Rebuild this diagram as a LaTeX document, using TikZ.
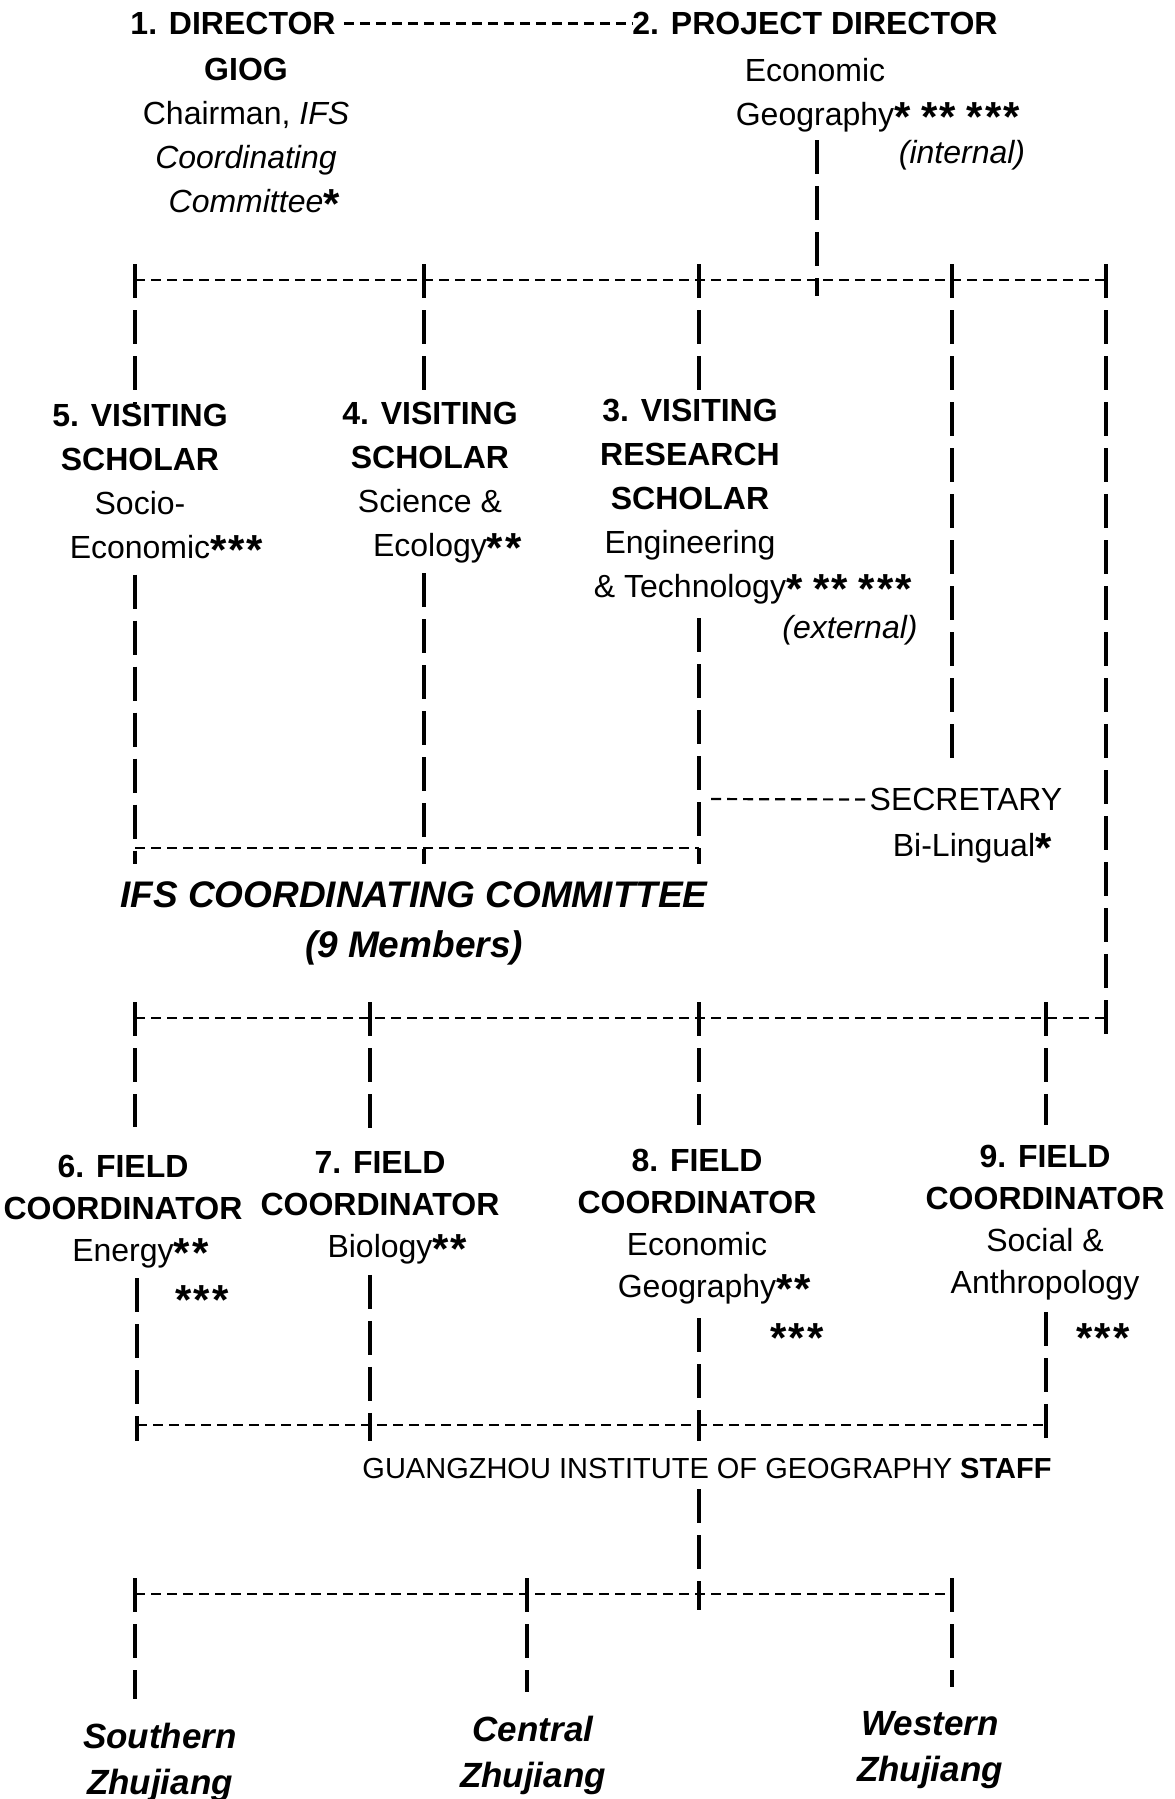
\documentclass[tikz,border=0pt]{standalone}
\usepackage{fontspec}
\setmainfont{Liberation Sans}
\usepackage{tikz}
\usetikzlibrary{positioning}

\newcommand{\sk}{\raisebox{-3pt}{\fontsize{21}{21}\selectfont\bfseries *}\kern1pt}
\newcommand{\stars}[1]{\rlap{#1}}

\begin{document}
\begin{tikzpicture}[x=0.5pt,y=0.5pt,yscale=-1,xscale=1,
  post/.style={inner sep=0pt, align=center, font=\fontsize{16}{22}\selectfont},
  head/.style={post, font=\fontsize{16}{22}\selectfont\bfseries},
  field/.style={post, font=\fontsize{16}{21}\selectfont},
  ifs/.style={inner sep=0pt, align=center, font=\fontsize{18.5}{25}\selectfont\bfseries\itshape},
  area/.style={inner sep=0pt, align=center, font=\fontsize{17.5}{23}\selectfont\bfseries\itshape},
  staffline/.style={inner sep=0pt, font=\fontsize{14.5}{18}\selectfont},
  hline/.style={line width=1.1pt, dash pattern=on 5pt off 3pt},
  vline/.style={line width=1.6pt, dash pattern=on 17pt off 6pt},
  drop/.style={vline, shorten <=-8pt}]
%set diagram frame: 1174 wide, 1799 high
\path[use as bounding box] (0,0) rectangle (1174,1799);

%Junctions
\coordinate (A1) at (135,280);  \coordinate (A2) at (424,280);
\coordinate (A3) at (699,280);  \coordinate (A4) at (817,280);
\coordinate (A5) at (952,280);  \coordinate (A6) at (1106,280);
\coordinate (S3) at (699,799);
\coordinate (B1) at (135,848);  \coordinate (B2) at (424,848);
\coordinate (B3) at (699,848);
\coordinate (C1) at (135,1018); \coordinate (C2) at (370,1018);
\coordinate (C3) at (699,1018); \coordinate (C4) at (1046,1018);
\coordinate (C6) at (1106,1018);
\coordinate (D1) at (137,1425); \coordinate (D2) at (370,1425);
\coordinate (D3) at (699,1425); \coordinate (D4) at (1046,1425);
\coordinate (E1) at (135,1594); \coordinate (E2) at (527,1594);
\coordinate (E3) at (699,1594); \coordinate (E5) at (952,1594);
\coordinate (pdtop) at (817,140);

%Text Node: directors
\node[head, anchor=base] (dir) at (233,34.5) {1. DIRECTOR};
\node[head, anchor=base] (pdir) at (815,34.5) {2. PROJECT DIRECTOR};
\node[post, anchor=north] (dirinfo) at (246,57.5) {\textbf{GIOG}\\Chairman, \textit{IFS}\\\textit{Coordinating}\\\textit{Committee}\stars{\sk}};
\node[post, anchor=north] (pdinfo) at (815,57.5) {Economic\\Geography\stars{\sk\ \sk\sk\ \sk\sk\sk}};
\node[post, anchor=base] (intl) at (962,163.5) {\textit{(internal)}};

%Text Node: visiting scholars
\node[post, anchor=north] (vs5) at (140,403.5) {\textbf{5. VISITING}\\\textbf{SCHOLAR}\\Socio-\\Economic\stars{\sk\sk\sk}};
\node[post, anchor=north] (vs4) at (430,401.5) {\textbf{4. VISITING}\\\textbf{SCHOLAR}\\Science \&\\Ecology\stars{\sk\sk}};
\node[post, anchor=north] (vs3) at (690,398.5) {\textbf{3. VISITING}\\\textbf{RESEARCH}\\\textbf{SCHOLAR}\\Engineering\\\& Technology\stars{\sk\ \sk\sk\ \sk\sk\sk}};
\node[post, anchor=base] (extl) at (850,638.5) {\textit{(external)}};
\node[post, anchor=base] (sec) at (966,810.5) {SECRETARY};
\node[post, anchor=base] (secb) at (964,856.5) {Bi-Lingual\stars{\sk}};
\node[ifs, anchor=north] (ifs) at (414,881) {IFS COORDINATING COMMITTEE\\(9 Members)};

%Text Node: field coordinators
\node[field, anchor=north] (f6) at (123,1154.5) {\textbf{6. FIELD}\\\textbf{COORDINATOR}\\Energy\stars{\sk\sk}};
\node[field, anchor=north] (f7) at (380,1151.5) {\textbf{7. FIELD}\\\textbf{COORDINATOR}\\Biology\stars{\sk\sk}};
\node[field, anchor=north] (f8) at (697,1148.5) {\textbf{8. FIELD}\\\textbf{COORDINATOR}\\Economic\\Geography\stars{\sk\sk}};
\node[field, anchor=north] (f9) at (1045,1144.5) {\textbf{9. FIELD}\\\textbf{COORDINATOR}\\Social \&\\Anthropology};
\node[post, anchor=base] (s6) at (203,1308) {\sk\sk\sk};
\node[post, anchor=base] (s8) at (798,1346) {\sk\sk\sk};
\node[post, anchor=base] (s9) at (1104,1346) {\sk\sk\sk};
\node[staffline, anchor=base] (staff) at (707,1478.5) {GUANGZHOU INSTITUTE OF GEOGRAPHY \textbf{STAFF}};

%Text Node: areas
\node[area, anchor=north] (south) at (160,1722.5) {Southern\\Zhujiang};
\node[area, anchor=north] (central) at (533,1715.5) {Central\\Zhujiang};
\node[area, anchor=north] (western) at (930,1710.5) {Western\\Zhujiang};

%Straight Lines: top
\draw[hline, shorten <=4pt] (dir.east) -- (pdir.west);
\draw[vline, shorten >=-8pt] (pdtop) -- (A4);
\draw[hline] (A1) -- (A6);
\draw[drop] (A1) -- (A1 |- vs5.north);
\draw[drop] (A2) -- (A2 |- vs4.north);
\draw[drop] (A3) -- (A3 |- vs3.north);
\draw[drop, shorten >=12pt] (A5) -- (A5 |- sec.north);
\draw[drop, shorten >=-8pt] (A6) -- (C6);

%Straight Lines: committee
\draw[vline, shorten <=5pt, shorten >=-8pt] (vs5.south -| A1) -- (B1);
\draw[vline, shorten <=5pt, shorten >=-8pt] (vs4.south -| A2) -- (B2);
\draw[vline, shorten <=7pt, shorten >=-8pt] (vs3.south -| A3) -- (B3);
\draw[hline] (B1) -- (B3);
\draw[hline, shorten <=6pt] (S3) -- (sec.west);

%Straight Lines: field
\draw[hline] (C1) -- (C6);
\draw[drop, shorten >=14pt] (C1) -- (C1 |- f6.north);
\draw[drop, shorten >=12pt] (C2) -- (C2 |- f7.north);
\draw[drop, shorten >=12pt] (C3) -- (C3 |- f8.north);
\draw[drop, shorten >=10pt] (C4) -- (C4 |- f9.north);
\draw[vline, shorten <=5pt, shorten >=-8pt] (f6.south -| D1) -- (D1);
\draw[vline, shorten <=5pt, shorten >=-8pt] (f7.south -| D2) -- (D2);
\draw[vline, shorten <=7pt, shorten >=-8pt] (f8.south -| D3) -- (D3);
\draw[vline, shorten <=6pt, shorten >=-8pt] (f9.south -| D4) -- (D4);
\draw[hline] (D1) -- (D4);

%Straight Lines: staff and areas
\draw[vline, shorten <=5pt, shorten >=-8pt] (staff.south -| E3) -- (E3);
\draw[hline] (E1) -- (E5);
\draw[drop, shorten >=12pt] (E1) -- (E1 |- south.north);
\draw[drop, shorten >=12pt] (E2) -- (E2 |- central.north);
\draw[drop, shorten >=12pt] (E5) -- (E5 |- western.north);

\end{tikzpicture}
\end{document}
